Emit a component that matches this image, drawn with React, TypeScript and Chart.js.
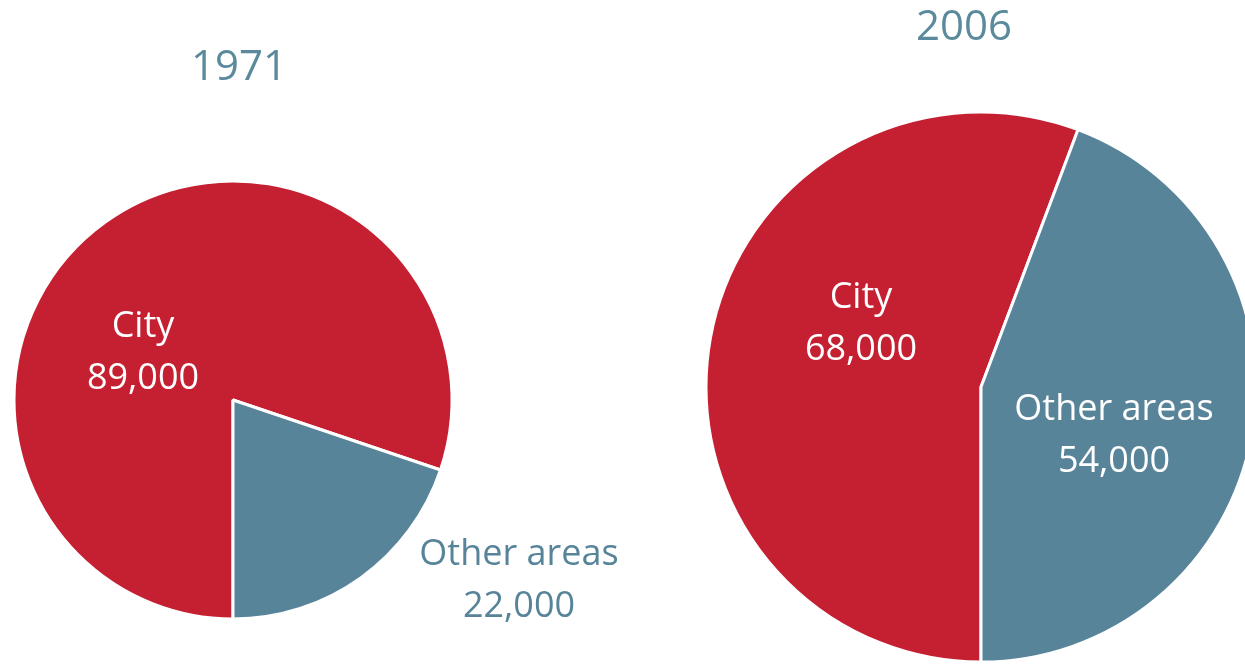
import React, { useEffect, useRef } from "react";
import { Chart, registerables } from "chart.js";

Chart.register(...registerables);

const categories = ["City", "Other areas"];
const values1971 = [89000, 22000];
const values2006 = [68000, 54000];
const titles = ["1971", "2006"];

const RED = "#C51F32";
const BLUE = "#58849A";
const FONT = "'Open Sans', sans-serif";

type LabelSpec = { dx: number; dy: number; color: string };

function fmt(n: number) {
  return n.toLocaleString("en-US");
}

function makePlugin(title: string, titleDx: number, titleDy: number, labels: LabelSpec[], values: number[]) {
  return {
    id: "custom-labels-" + title,
    afterDatasetsDraw(chart: any) {
      const meta = chart.getDatasetMeta(0);
      const arc = meta.data[0];
      const cx = arc.x;
      const cy = arc.y;
      const ctx = chart.ctx;
      ctx.save();
      ctx.textAlign = "center";
      ctx.textBaseline = "middle";
      ctx.fillStyle = "#5B8A9C";
      ctx.font = `42px ${FONT}`;
      ctx.fillText(title, cx + titleDx, cy + titleDy);
      ctx.font = `36px ${FONT}`;
      labels.forEach((l, i) => {
        ctx.fillStyle = l.color;
        ctx.fillText(categories[i], cx + l.dx, cy + l.dy - 26);
        ctx.fillText(fmt(values[i]), cx + l.dx, cy + l.dy + 26);
      });
      ctx.restore();
    },
  };
}

function PieChart(props: {
  values: number[];
  title: string;
  titleDx: number;
  titleDy: number;
  radius: number;
  left: number;
  top: number;
  size: number;
  labels: LabelSpec[];
}) {
  const ref = useRef<HTMLCanvasElement | null>(null);
  useEffect(() => {
    if (!ref.current) return;
    const chart = new Chart(ref.current, {
      type: "pie",
      data: {
        labels: categories,
        datasets: [
          {
            data: props.values,
            backgroundColor: [RED, BLUE],
            borderColor: "#ffffff",
            borderWidth: 3,
            radius: props.radius,
          } as any,
        ],
      },
      options: {
        animation: false,
        responsive: false,
        rotation: 180,
        layout: { padding: 0 },
        plugins: {
          legend: { display: false },
          tooltip: { enabled: false },
          title: { display: false },
        },
      },
      plugins: [makePlugin(props.title, props.titleDx, props.titleDy, props.labels, props.values)],
    });
    return () => chart.destroy();
  }, []);
  return (
    <canvas
      ref={ref}
      width={props.size}
      height={props.size}
      style={{
        position: "absolute",
        left: props.left,
        top: props.top,
        width: props.size,
        height: props.size,
      }}
    />
  );
}

export default function App() {
  return (
    <div
      style={{
        position: "fixed",
        left: 0,
        top: 0,
        width: 1245,
        height: 666,
        overflow: "hidden",
        background: "#ffffff",
      }}
    >
      <PieChart
        values={values1971}
        title={titles[0]}
        titleDx={6}
        titleDy={-332}
        radius={219}
        left={233 - 400}
        top={400 - 400}
        size={800}
        labels={[
          { dx: -90, dy: -47, color: "#ffffff" },
          { dx: 286, dy: 181, color: BLUE },
        ]}
      />
      <PieChart
        values={values2006}
        title={titles[1]}
        titleDx={-17}
        titleDy={-359}
        radius={275}
        left={981 - 400}
        top={387 - 400}
        size={800}
        labels={[
          { dx: -120, dy: -63, color: "#ffffff" },
          { dx: 133, dy: 49, color: "#ffffff" },
        ]}
      />
    </div>
  );
}
